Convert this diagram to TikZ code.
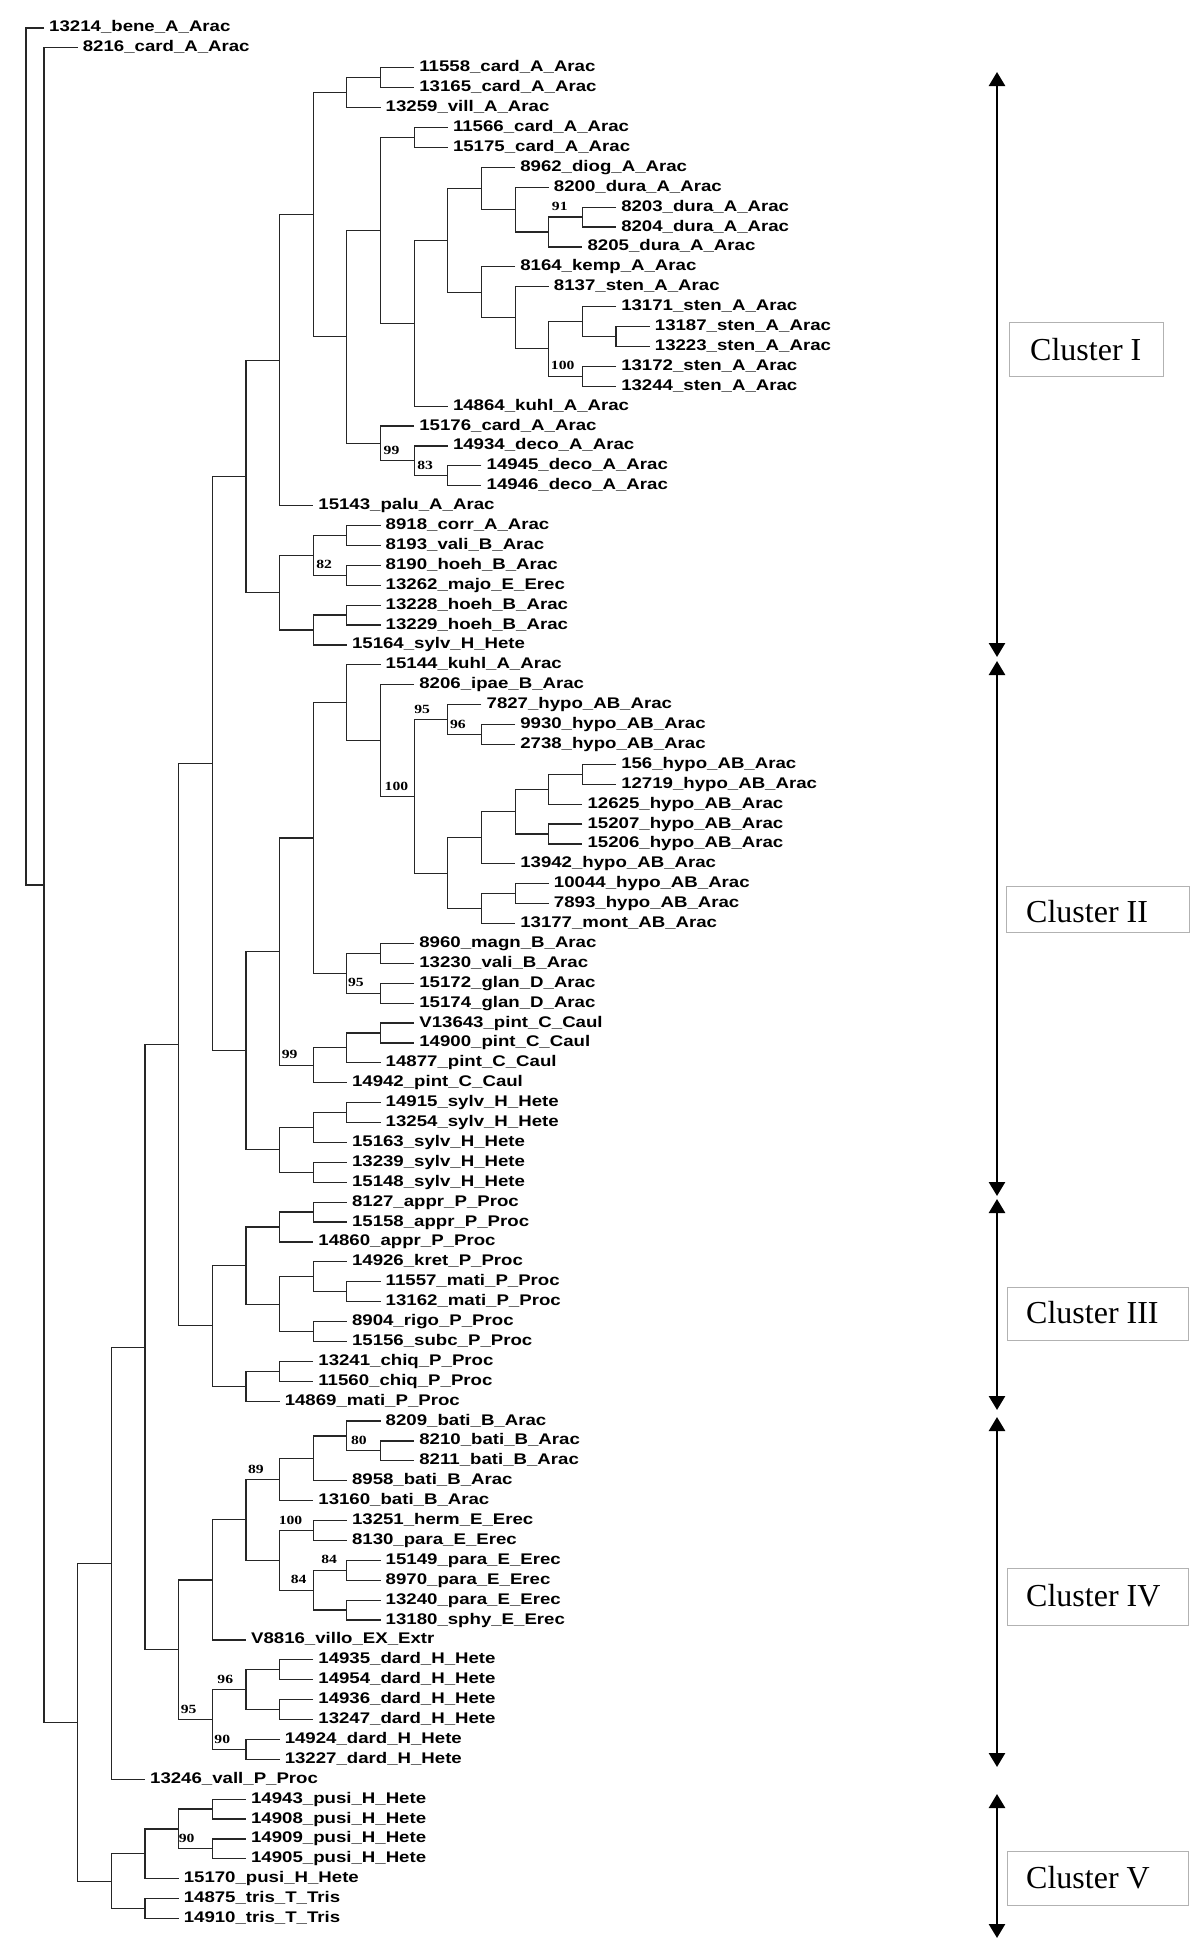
\documentclass[tikz,border=0pt]{standalone}
\usepackage{fontspec}
\setmainfont{Liberation Serif}
\newfontfamily\leaffont[FakeStretch=1.21]{Liberation Sans}
\newfontfamily\bsfont[FakeStretch=1.25]{Liberation Serif}
\usetikzlibrary{calc,arrows.meta}
\newcommand\lf[4]{\coordinate (#1) at ({44+33.65*(#3)},{28+19.9*(#2-1)});
  \node[leaflab] (#1t) at ([xshift=5pt]#1) {#4};}
\newcommand\nd[4]{\path let \p1=(#3), \p2=(#4) in coordinate (#1) at ({(44+33.65*(#2))*1pt},{0.5*(\y1)+0.5*(\y2)});
  \draw[br] (#3) -- (#3 -| #1) -- (#4 -| #1) -- (#4);}
\newcommand\bs[5]{\node[bslab] (#1) at ($(#3 -| #2)+(#5,-6)$) {#4};}
\tikzset{
  br/.style={line width=1.2pt, draw=black!85},
  leaflab/.style={anchor=west, inner sep=0pt, text height=11pt, text depth=3pt,
    font={\leaffont\bfseries\fontsize{15.4}{16}\selectfont}},
  bslab/.style={anchor=south west, inner sep=0pt,
    font={\bsfont\bfseries\fontsize{12.5}{13}\selectfont}},
  clar/.style={line width=2.6pt, {Triangle[length=14pt,width=16pt]}-{Triangle[length=14pt,width=16pt]}},
  clbox/.style={draw=black!30, line width=1pt},
  cltext/.style={anchor=west, inner sep=0pt, font={\fontsize{32}{34}\selectfont}}
}
\begin{document}
\begin{tikzpicture}[x=1pt,y=-1pt]
\fill[white] (0,0) rectangle (1200,1943);
\useasboundingbox (0,0) rectangle (1200,1943);
% leaves
\lf{l1}{1}{0}{13214\_bene\_A\_Arac}
\lf{l2}{2}{1}{8216\_card\_A\_Arac}
\lf{l3}{3}{11}{11558\_card\_A\_Arac}
\lf{l4}{4}{11}{13165\_card\_A\_Arac}
\lf{l5}{5}{10}{13259\_vill\_A\_Arac}
\lf{l6}{6}{12}{11566\_card\_A\_Arac}
\lf{l7}{7}{12}{15175\_card\_A\_Arac}
\lf{l8}{8}{14}{8962\_diog\_A\_Arac}
\lf{l9}{9}{15}{8200\_dura\_A\_Arac}
\lf{l10}{10}{17}{8203\_dura\_A\_Arac}
\lf{l11}{11}{17}{8204\_dura\_A\_Arac}
\lf{l12}{12}{16}{8205\_dura\_A\_Arac}
\lf{l13}{13}{14}{8164\_kemp\_A\_Arac}
\lf{l14}{14}{15}{8137\_sten\_A\_Arac}
\lf{l15}{15}{17}{13171\_sten\_A\_Arac}
\lf{l16}{16}{18}{13187\_sten\_A\_Arac}
\lf{l17}{17}{18}{13223\_sten\_A\_Arac}
\lf{l18}{18}{17}{13172\_sten\_A\_Arac}
\lf{l19}{19}{17}{13244\_sten\_A\_Arac}
\lf{l20}{20}{12}{14864\_kuhl\_A\_Arac}
\lf{l21}{21}{11}{15176\_card\_A\_Arac}
\lf{l22}{22}{12}{14934\_deco\_A\_Arac}
\lf{l23}{23}{13}{14945\_deco\_A\_Arac}
\lf{l24}{24}{13}{14946\_deco\_A\_Arac}
\lf{l25}{25}{8}{15143\_palu\_A\_Arac}
\lf{l26}{26}{10}{8918\_corr\_A\_Arac}
\lf{l27}{27}{10}{8193\_vali\_B\_Arac}
\lf{l28}{28}{10}{8190\_hoeh\_B\_Arac}
\lf{l29}{29}{10}{13262\_majo\_E\_Erec}
\lf{l30}{30}{10}{13228\_hoeh\_B\_Arac}
\lf{l31}{31}{10}{13229\_hoeh\_B\_Arac}
\lf{l32}{32}{9}{15164\_sylv\_H\_Hete}
\lf{l33}{33}{10}{15144\_kuhl\_A\_Arac}
\lf{l34}{34}{11}{8206\_ipae\_B\_Arac}
\lf{l35}{35}{13}{7827\_hypo\_AB\_Arac}
\lf{l36}{36}{14}{9930\_hypo\_AB\_Arac}
\lf{l37}{37}{14}{2738\_hypo\_AB\_Arac}
\lf{l38}{38}{17}{156\_hypo\_AB\_Arac}
\lf{l39}{39}{17}{12719\_hypo\_AB\_Arac}
\lf{l40}{40}{16}{12625\_hypo\_AB\_Arac}
\lf{l41}{41}{16}{15207\_hypo\_AB\_Arac}
\lf{l42}{42}{16}{15206\_hypo\_AB\_Arac}
\lf{l43}{43}{14}{13942\_hypo\_AB\_Arac}
\lf{l44}{44}{15}{10044\_hypo\_AB\_Arac}
\lf{l45}{45}{15}{7893\_hypo\_AB\_Arac}
\lf{l46}{46}{14}{13177\_mont\_AB\_Arac}
\lf{l47}{47}{11}{8960\_magn\_B\_Arac}
\lf{l48}{48}{11}{13230\_vali\_B\_Arac}
\lf{l49}{49}{11}{15172\_glan\_D\_Arac}
\lf{l50}{50}{11}{15174\_glan\_D\_Arac}
\lf{l51}{51}{11}{V13643\_pint\_C\_Caul}
\lf{l52}{52}{11}{14900\_pint\_C\_Caul}
\lf{l53}{53}{10}{14877\_pint\_C\_Caul}
\lf{l54}{54}{9}{14942\_pint\_C\_Caul}
\lf{l55}{55}{10}{14915\_sylv\_H\_Hete}
\lf{l56}{56}{10}{13254\_sylv\_H\_Hete}
\lf{l57}{57}{9}{15163\_sylv\_H\_Hete}
\lf{l58}{58}{9}{13239\_sylv\_H\_Hete}
\lf{l59}{59}{9}{15148\_sylv\_H\_Hete}
\lf{l60}{60}{9}{8127\_appr\_P\_Proc}
\lf{l61}{61}{9}{15158\_appr\_P\_Proc}
\lf{l62}{62}{8}{14860\_appr\_P\_Proc}
\lf{l63}{63}{9}{14926\_kret\_P\_Proc}
\lf{l64}{64}{10}{11557\_mati\_P\_Proc}
\lf{l65}{65}{10}{13162\_mati\_P\_Proc}
\lf{l66}{66}{9}{8904\_rigo\_P\_Proc}
\lf{l67}{67}{9}{15156\_subc\_P\_Proc}
\lf{l68}{68}{8}{13241\_chiq\_P\_Proc}
\lf{l69}{69}{8}{11560\_chiq\_P\_Proc}
\lf{l70}{70}{7}{14869\_mati\_P\_Proc}
\lf{l71}{71}{10}{8209\_bati\_B\_Arac}
\lf{l72}{72}{11}{8210\_bati\_B\_Arac}
\lf{l73}{73}{11}{8211\_bati\_B\_Arac}
\lf{l74}{74}{9}{8958\_bati\_B\_Arac}
\lf{l75}{75}{8}{13160\_bati\_B\_Arac}
\lf{l76}{76}{9}{13251\_herm\_E\_Erec}
\lf{l77}{77}{9}{8130\_para\_E\_Erec}
\lf{l78}{78}{10}{15149\_para\_E\_Erec}
\lf{l79}{79}{10}{8970\_para\_E\_Erec}
\lf{l80}{80}{10}{13240\_para\_E\_Erec}
\lf{l81}{81}{10}{13180\_sphy\_E\_Erec}
\lf{l82}{82}{6}{V8816\_villo\_EX\_Extr}
\lf{l83}{83}{8}{14935\_dard\_H\_Hete}
\lf{l84}{84}{8}{14954\_dard\_H\_Hete}
\lf{l85}{85}{8}{14936\_dard\_H\_Hete}
\lf{l86}{86}{8}{13247\_dard\_H\_Hete}
\lf{l87}{87}{7}{14924\_dard\_H\_Hete}
\lf{l88}{88}{7}{13227\_dard\_H\_Hete}
\lf{l89}{89}{3}{13246\_vall\_P\_Proc}
\lf{l90}{90}{6}{14943\_pusi\_H\_Hete}
\lf{l91}{91}{6}{14908\_pusi\_H\_Hete}
\lf{l92}{92}{6}{14909\_pusi\_H\_Hete}
\lf{l93}{93}{6}{14905\_pusi\_H\_Hete}
\lf{l94}{94}{4}{15170\_pusi\_H\_Hete}
\lf{l95}{95}{4}{14875\_tris\_T\_Tris}
\lf{l96}{96}{4}{14910\_tris\_T\_Tris}
% internal nodes
\nd{p3}{10}{l3}{l4}
\nd{AE}{9}{p3}{l5}
\nd{p6}{11}{l6}{l7}
\nd{p10}{16}{l10}{l11}
\nd{AO}{15}{p10}{l12}
\nd{AN}{14}{l9}{AO}
\nd{AL}{13}{l8}{AN}
\nd{p16}{17}{l16}{l17}
\nd{AR}{16}{l15}{p16}
\nd{p18}{16}{l18}{l19}
\nd{AQ}{15}{AR}{p18}
\nd{AP}{14}{l14}{AQ}
\nd{AM}{13}{l13}{AP}
\nd{AK}{12}{AL}{AM}
\nd{AJ}{11}{AK}{l20}
\nd{AG}{10}{p6}{AJ}
\nd{p23}{12}{l23}{l24}
\nd{AI}{11}{l22}{p23}
\nd{AH}{10}{l21}{AI}
\nd{AF}{9}{AG}{AH}
\nd{AD}{8}{AE}{AF}
\nd{Z}{7}{AD}{l25}
\nd{p26}{9}{l26}{l27}
\nd{p28}{9}{l28}{l29}
\nd{AB}{8}{p26}{p28}
\nd{p30}{9}{l30}{l31}
\nd{AC}{8}{p30}{l32}
\nd{AA}{7}{AB}{AC}
\nd{X}{6}{Z}{AA}
\nd{p36}{13}{l36}{l37}
\nd{BC}{12}{l35}{p36}
\nd{p38}{16}{l38}{l39}
\nd{BH}{15}{p38}{l40}
\nd{p41}{15}{l41}{l42}
\nd{BG}{14}{BH}{p41}
\nd{BE}{13}{BG}{l43}
\nd{p44}{14}{l44}{l45}
\nd{BF}{13}{p44}{l46}
\nd{BD}{12}{BE}{BF}
\nd{BB}{11}{BC}{BD}
\nd{BA}{10}{l34}{BB}
\nd{AY}{9}{l33}{BA}
\nd{p47}{10}{l47}{l48}
\nd{p49}{10}{l49}{l50}
\nd{AZ}{9}{p47}{p49}
\nd{AV}{8}{AY}{AZ}
\nd{p51}{10}{l51}{l52}
\nd{AX}{9}{p51}{l53}
\nd{AW}{8}{AX}{l54}
\nd{AS}{7}{AV}{AW}
\nd{p55}{9}{l55}{l56}
\nd{AU}{8}{p55}{l57}
\nd{p58}{8}{l58}{l59}
\nd{AT}{7}{AU}{p58}
\nd{Y}{6}{AS}{AT}
\nd{P}{5}{X}{Y}
\nd{p60}{8}{l60}{l61}
\nd{T}{7}{p60}{l62}
\nd{p64}{9}{l64}{l65}
\nd{V}{8}{l63}{p64}
\nd{W}{8}{l66}{l67}
\nd{U}{7}{V}{W}
\nd{R}{6}{T}{U}
\nd{p68}{7}{l68}{l69}
\nd{S}{6}{p68}{l70}
\nd{Q}{5}{R}{S}
\nd{H}{4}{P}{Q}
\nd{p72}{10}{l72}{l73}
\nd{MB}{9}{l71}{p72}
\nd{MA}{8}{MB}{l74}
\nd{M}{7}{MA}{l75}
\nd{p76}{8}{l76}{l77}
\nd{p78}{9}{l78}{l79}
\nd{p80}{9}{l80}{l81}
\nd{O}{8}{p78}{p80}
\nd{N}{7}{p76}{O}
\nd{L}{6}{M}{N}
\nd{J}{5}{L}{l82}
\nd{p83}{7}{l83}{l84}
\nd{p85}{7}{l85}{l86}
\nd{KA}{6}{p83}{p85}
\nd{p87}{6}{l87}{l88}
\nd{K}{5}{KA}{p87}
\nd{I}{4}{J}{K}
\nd{G}{3}{H}{I}
\nd{C}{2}{G}{l89}
\nd{p90}{5}{l90}{l91}
\nd{p92}{5}{l92}{l93}
\nd{F}{4}{p90}{p92}
\nd{E}{3}{F}{l94}
\nd{p95}{3}{l95}{l96}
\nd{D}{2}{E}{p95}
\nd{B}{1}{C}{D}
\nd{A}{0}{l2}{B}
\nd{root}{-0.535}{l1}{A}
% bootstrap values
\bs{b1}{AO}{p10}{91}{3}
\bs{b2}{AQ}{p18}{100}{2}
\bs{b3}{AH}{AI}{99}{3}
\bs{b4}{AI}{p23}{83}{3}
\bs{b5}{AB}{p28}{82}{3}
\bs{b6}{BB}{BC}{95}{0}
\bs{b7}{BC}{p36}{96}{2}
\bs{b8}{BA}{BB}{100}{4}
\bs{b9}{AZ}{p49}{95}{1}
\bs{b10}{AS}{AW}{99}{2}
\bs{b11}{L}{M}{89}{2}
\bs{b12}{MB}{p72}{80}{4}
\bs{b13}{N}{p76}{100}{-1}
\bs{b14}{O}{p78}{84}{8}
\bs{b15}{N}{O}{84}{11}
\bs{b16}{K}{KA}{96}{5}
\bs{b17}{I}{K}{95}{2}
\bs{b18}{K}{p87}{90}{2}
\bs{b19}{F}{p92}{90}{0}
% cluster arrows
\coordinate (c1t) at (997,72);   \coordinate (c1b) at (997,657);
\coordinate (c2t) at (997,661);  \coordinate (c2b) at (997,1196);
\coordinate (c3t) at (997,1199); \coordinate (c3b) at (997,1410);
\coordinate (c4t) at (997,1417); \coordinate (c4b) at (997,1767);
\coordinate (c5t) at (997,1794); \coordinate (c5b) at (997,1938);
\draw[clar] (c1t) -- (c1b);
\draw[clar] (c2t) -- (c2b);
\draw[clar] (c3t) -- (c3b);
\draw[clar] (c4t) -- (c4b);
\draw[clar] (c5t) -- (c5b);
% cluster boxes
\draw[clbox] (1009,322) rectangle (1163,376);
\draw[clbox] (1006,886) rectangle (1189,932);
\draw[clbox] (1007,1287) rectangle (1188,1340);
\draw[clbox] (1007,1568) rectangle (1188,1625);
\draw[clbox] (1007,1851) rectangle (1188,1905);
\node[cltext] (k1) at (1030,350) {Cluster I};
\node[cltext] (k2) at (1026,912) {Cluster II};
\node[cltext] (k3) at (1026,1313) {Cluster III};
\node[cltext] (k4) at (1026,1596) {Cluster IV};
\node[cltext] (k5) at (1026,1878) {Cluster V};
\end{tikzpicture}
\end{document}
